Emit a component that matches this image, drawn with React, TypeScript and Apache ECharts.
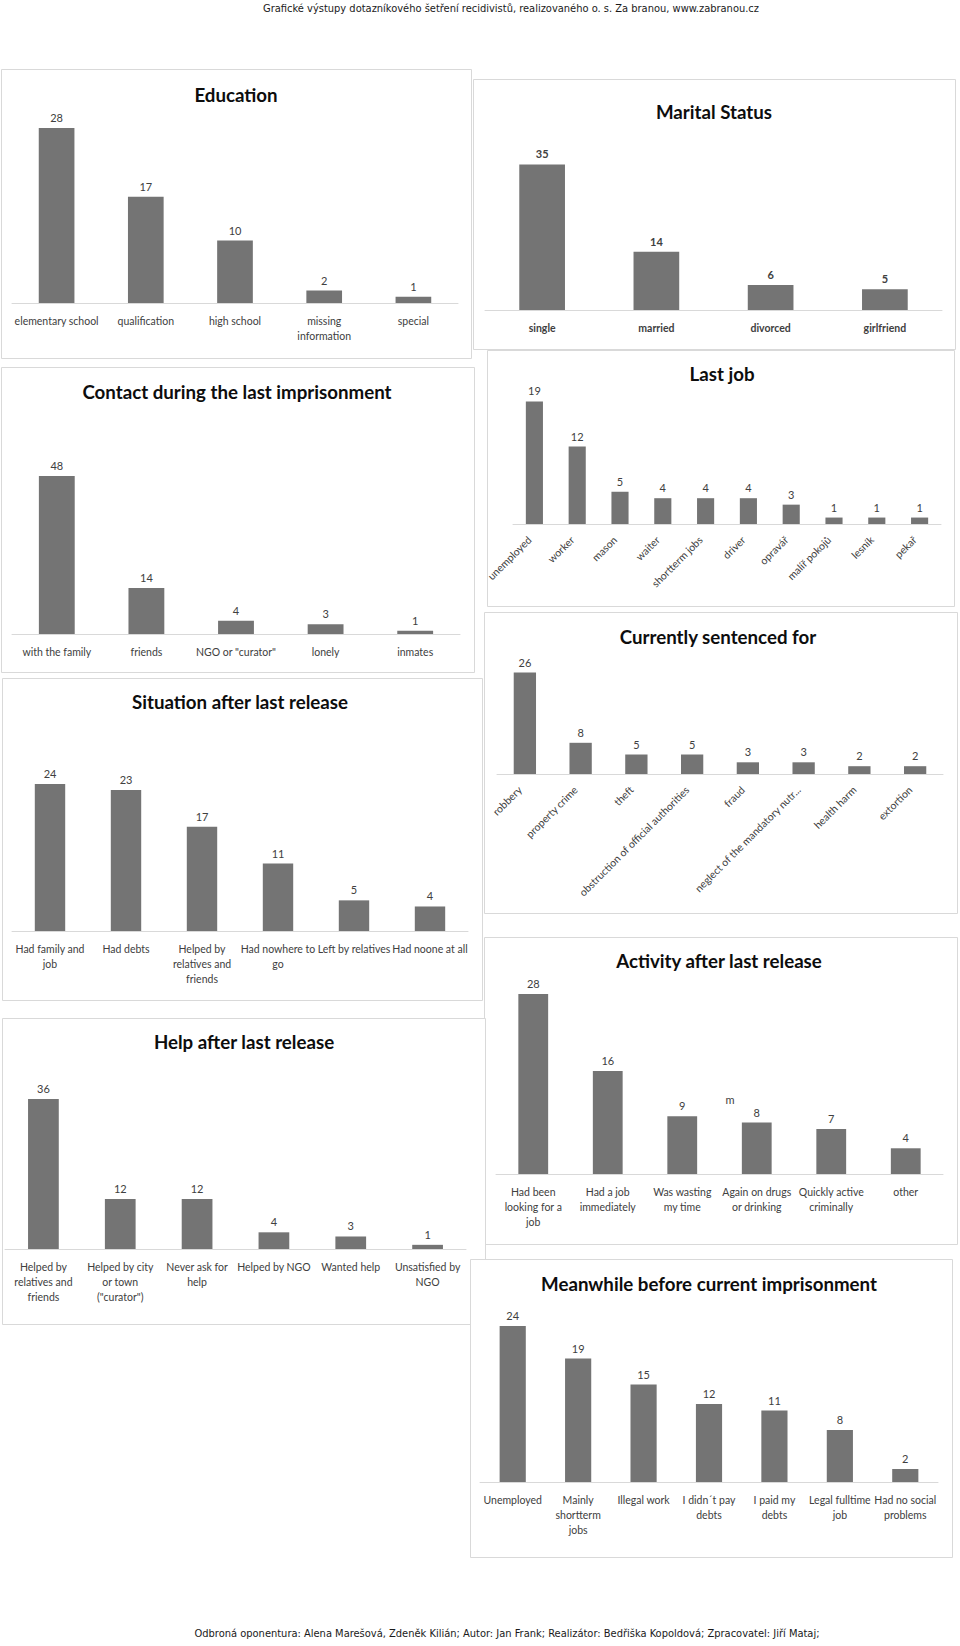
import React, { useEffect, useRef } from "react";
import * as echarts from "echarts";

// ---------- DATA ----------
const headerText =
  "Grafické výstupy dotazníkového šetření recidivistů, realizovaného o. s. Za branou, www.zabranou.cz";
const footerText =
  "Odbroná oponentura: Alena Marešová, Zdeněk Kilián; Autor: Jan Frank; Realizátor: Bedřiška Kopoldová; Zpracovatel: Jiří Mataj;";

const educationCategories = ["elementary school", "qualification", "high school", "missing\ninformation", "special"];
const educationValues = [28, 17, 10, 2, 1];

const maritalCategories = ["single", "married", "divorced", "girlfriend"];
const maritalValues = [35, 14, 6, 5];

const contactCategories = ["with the family", "friends", 'NGO or "curator"', "lonely", "inmates"];
const contactValues = [48, 14, 4, 3, 1];

const lastJobCategories = [
  "unemployed", "worker", "mason", "waiter", "shortterm jobs",
  "driver", "opravář", "malíř pokojů", "lesník", "pekař",
];
const lastJobValues = [19, 12, 5, 4, 4, 4, 3, 1, 1, 1];

const sentencedCategories = [
  "robbery", "property crime", "theft", "obstruction of official authorities",
  "fraud", "neglect of the mandatory nutr...", "health harm", "extortion",
];
const sentencedValues = [26, 8, 5, 5, 3, 3, 2, 2];

const situationCategories = [
  "Had family and\njob", "Had debts", "Helped by\nrelatives and\nfriends",
  "Had nowhere to\ngo", "Left by relatives", "Had noone at all",
];
const situationValues = [24, 23, 17, 11, 5, 4];

const activityCategories = [
  "Had been\nlooking for a\njob", "Had a job\nimmediately", "Was wasting\nmy time",
  "Again on drugs\nor drinking", "Quickly active\ncriminally", "other",
];
const activityValues = [28, 16, 9, 8, 7, 4];

const helpCategories = [
  "Helped by\nrelatives and\nfriends", 'Helped by city\nor town\n("curator")', "Never ask for\nhelp",
  "Helped by NGO", "Wanted help", "Unsatisfied by\nNGO",
];
const helpValues = [36, 12, 12, 4, 3, 1];

const meanwhileCategories = [
  "Unemployed", "Mainly\nshortterm\njobs", "Illegal work", "I didn´t pay\ndebts",
  "I paid my\ndebts", "Legal fulltime\njob", "Had no social\nproblems",
];
const meanwhileValues = [24, 19, 15, 12, 11, 8, 2];

const strayText = "m";

// ---------- STYLE / LAYOUT ----------
const FONT = "Lato, 'Noto Sans', sans-serif";
const NARROW = "'Liberation Sans Narrow', 'DejaVu Sans Condensed', sans-serif";
const BAR = "#747474";
const TEXT = "#404040";
const AXIS = "#D9D9D9";
const BORDER = "#D9D9D9";
const LABEL_SIZE = 10.5;
const TITLE_SIZE = 18.7;

type Panel = {
  title: string;
  categories: string[];
  values: number[];
  box: [number, number, number, number];
  titleXY: [number, number];
  left: number;
  width: number;
  baseline: number;
  max: number;
  ppu: number;
  rotate?: number;
  bold?: boolean;
};

const panels: Panel[] = [
  { title: "Education", categories: educationCategories, values: educationValues,
    box: [1, 69, 470, 289], titleXY: [236, 95], left: 12, width: 446, baseline: 303, max: 30, ppu: 6.25 },
  { title: "Marital Status", categories: maritalCategories, values: maritalValues,
    box: [473, 79, 482, 270], titleXY: [714, 112], left: 485, width: 457, baseline: 310, max: 40, ppu: 4.16, bold: true },
  { title: "Contact during the last imprisonment", categories: contactCategories, values: contactValues,
    box: [1, 367, 473, 305], titleXY: [237, 392], left: 12, width: 448, baseline: 634, max: 60, ppu: 3.29 },
  { title: "Last job", categories: lastJobCategories, values: lastJobValues,
    box: [487, 350, 467, 256], titleXY: [722, 374], left: 513, width: 428, baseline: 524, max: 20, ppu: 6.45, rotate: 45 },
  { title: "Currently sentenced for", categories: sentencedCategories, values: sentencedValues,
    box: [484, 612, 473, 301], titleXY: [718, 637], left: 497, width: 446, baseline: 774, max: 30, ppu: 3.9, rotate: 45 },
  { title: "Situation after last release", categories: situationCategories, values: situationValues,
    box: [2, 678, 480, 322], titleXY: [240, 702], left: 12, width: 456, baseline: 931, max: 30, ppu: 6.13 },
  { title: "Activity after last release", categories: activityCategories, values: activityValues,
    box: [484, 937, 473, 307], titleXY: [719, 961], left: 496, width: 447, baseline: 1174, max: 30, ppu: 6.43 },
  { title: "Help after last release", categories: helpCategories, values: helpValues,
    box: [2, 1018, 483, 306], titleXY: [244, 1042], left: 5, width: 461, baseline: 1249, max: 40, ppu: 4.17 },
  { title: "Meanwhile before current imprisonment", categories: meanwhileCategories, values: meanwhileValues,
    box: [470, 1259, 482, 298], titleXY: [709, 1284], left: 480, width: 458, baseline: 1482, max: 30, ppu: 6.5 },
];

function textEl(text: string, x: number, y: number, size: number, weight: string, family: string, fill: string, z2: number) {
  return {
    type: "text",
    x,
    y,
    z: 20,
    z2,
    silent: true,
    style: {
      text,
      fill,
      fontSize: size,
      fontWeight: weight,
      fontFamily: family,
      textAlign: "center",
      textVerticalAlign: "middle",
      align: "center",
      verticalAlign: "middle",
    },
  };
}

function buildOption() {
  const grid: any[] = [];
  const xAxis: any[] = [];
  const yAxis: any[] = [];
  const series: any[] = [];
  const graphic: any[] = [];

  panels.forEach((p, i) => {
    const h = p.max * p.ppu;
    grid.push({
      left: p.left,
      width: p.width,
      top: p.baseline - h,
      height: h,
      containLabel: false,
      outerBoundsMode: "none",
    });
    const axisLabel: any = {
      interval: 0,
      rotate: p.rotate || 0,
      margin: p.rotate ? 9 : 10,
      fontSize: LABEL_SIZE,
      lineHeight: 15,
      color: TEXT,
      fontFamily: FONT,
      fontWeight: p.bold ? "bold" : "normal",
      hideOverlap: false,
    };
    if (p.rotate) {
      axisLabel.padding = [0, 7, 0, 0];
    }
    xAxis.push({
      type: "category",
      gridIndex: i,
      data: p.categories,
      z: 5,
      axisLine: { show: true, lineStyle: { color: AXIS, width: 1 } },
      axisTick: { show: false },
      splitLine: { show: false },
      axisLabel,
    });
    yAxis.push({
      type: "value",
      gridIndex: i,
      min: 0,
      max: p.max,
      show: false,
      splitLine: { show: false },
    });
    series.push({
      type: "bar",
      name: p.title,
      xAxisIndex: i,
      yAxisIndex: i,
      data: p.values,
      barWidth: "40%",
      z: 10,
      silent: true,
      itemStyle: { color: BAR },
      label: {
        show: true,
        position: "top",
        distance: 5,
        fontSize: 11,
        color: TEXT,
        fontFamily: FONT,
        fontWeight: p.bold ? "bold" : "normal",
      },
    });
    const [bx, by, bw, bh] = p.box;
    graphic.push({
      type: "rect",
      z: 0,
      z2: i,
      silent: true,
      shape: { x: bx + 0.5, y: by + 0.5, width: bw, height: bh },
      style: { fill: "#ffffff", stroke: BORDER, lineWidth: 1 },
    });
    graphic.push(textEl(p.title, p.titleXY[0], p.titleXY[1], TITLE_SIZE, "bold", FONT, "#0d0d0d", 100 + i));
  });

  graphic.push(textEl(headerText, 511, 8, 11, "normal", NARROW, "#1a1a1a", 200));
  graphic.push(textEl(footerText, 507, 1633, 11, "normal", NARROW, "#1a1a1a", 201));
  graphic.push(textEl(strayText, 730, 1099, 11, "normal", FONT, TEXT, 202));

  return {
    animation: false,
    backgroundColor: "#ffffff",
    grid,
    xAxis,
    yAxis,
    series,
    graphic: { elements: graphic },
  };
}

export default function App() {
  const ref = useRef<HTMLDivElement>(null);
  useEffect(() => {
    if (!ref.current) return;
    const chart = echarts.init(ref.current, undefined, { renderer: "svg" });
    chart.setOption(buildOption() as any);
    return () => chart.dispose();
  }, []);
  return (
    <div
      ref={ref}
      style={{ position: "absolute", left: 0, top: 0, width: 960, height: 1646, background: "#fff" }}
    />
  );
}
